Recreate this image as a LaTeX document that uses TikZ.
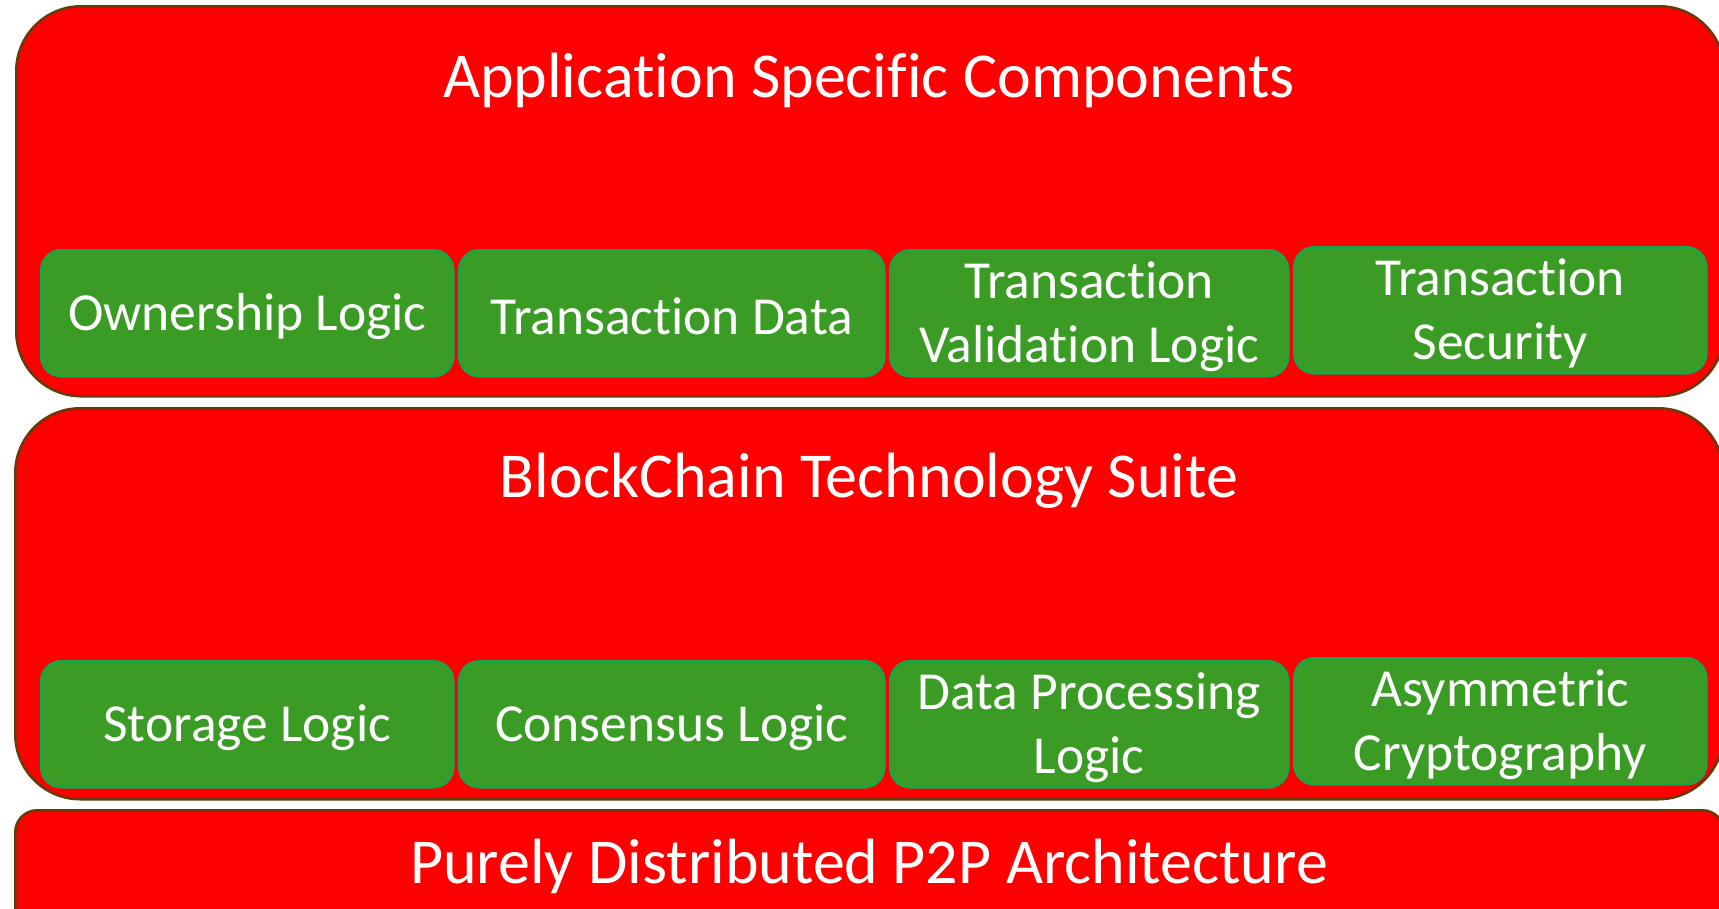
\documentclass[tikz,border=0pt]{standalone}
\usepackage{fontspec}
\setmainfont{Carlito}[Ligatures={NoCommon,NoRare,NoContextual},Contextuals=NoAlternate]
\definecolor{layerred}{HTML}{FF0000}
\definecolor{layeredge}{HTML}{673A0A}
\definecolor{modfill}{HTML}{3A9C24}
\definecolor{modedge}{HTML}{14A84A}
\tikzset{
  layer/.style={draw=layeredge, line width=2.5pt, fill=layerred,
    anchor=north west, inner sep=0pt},
  layertitle/.style={text=white, anchor=base, inner sep=0pt,
    font=\fontsize{64}{77}\selectfont},
  module/.style={draw=modedge, line width=2.5pt, fill=modfill,
    rounded corners=20pt, anchor=north west, inner sep=0pt,
    minimum height=126pt},
  modtext/.style={text=white, align=center, inner sep=0pt, yshift=-3pt,
    font=\fontsize{53.5}{64}\selectfont},
}
\begin{document}
\begin{tikzpicture}[x=1pt,y=-1pt]
\useasboundingbox (0,0) rectangle (1719,908);
\clip (0,0) rectangle (1719,908);

% three stacked layers
\node[layer, rounded corners=65pt, minimum width=1708pt, minimum height=390pt]
  (app) at (15,5) {};
\node[layer, rounded corners=65pt, minimum width=1708pt, minimum height=391pt]
  (chain) at (14,407) {};
\node[layer, rounded corners=22pt, minimum width=1709pt, minimum height=140pt]
  (p2p) at (14,809) {};

% layer titles
\node[layertitle] (apptitle) at (869,97) {Application Specific Components};
\node[layertitle] (chaintitle) at (869,497) {BlockChain Technology Suite};
\node[layertitle] (p2ptitle) at (869,883) {Purely Distributed P2P Architecture};

% application components
\node[module, minimum width=412pt] (own) at (40,249) {};
\node[module, minimum width=425pt] (txdata) at (458,249) {};
\node[module, minimum width=398pt] (txval) at (889,249) {};
\node[module, minimum width=412pt] (txsec) at (1293,246) {};
\node[modtext] (own-t) at (own.center) {Ownership Logic};
\node[modtext] (txdata-t) at (txdata.center) {Transaction Data};
\node[modtext] (txval-t) at (txval.center) {Transaction\\Validation Logic};
\node[modtext] (txsec-t) at (txsec.center) {Transaction\\Security};

% blockchain suite components
\node[module, minimum width=412pt] (store) at (40,660) {};
\node[module, minimum width=425pt] (cons) at (458,660) {};
\node[module, minimum width=398pt] (proc) at (889,660) {};
\node[module, minimum width=412pt] (crypt) at (1293,657) {};
\node[modtext] (store-t) at (store.center) {Storage Logic};
\node[modtext] (cons-t) at (cons.center) {Consensus Logic};
\node[modtext] (proc-t) at (proc.center) {Data Processing\\Logic};
\node[modtext] (crypt-t) at (crypt.center) {Asymmetric\\Cryptography};
\end{tikzpicture}
\end{document}
